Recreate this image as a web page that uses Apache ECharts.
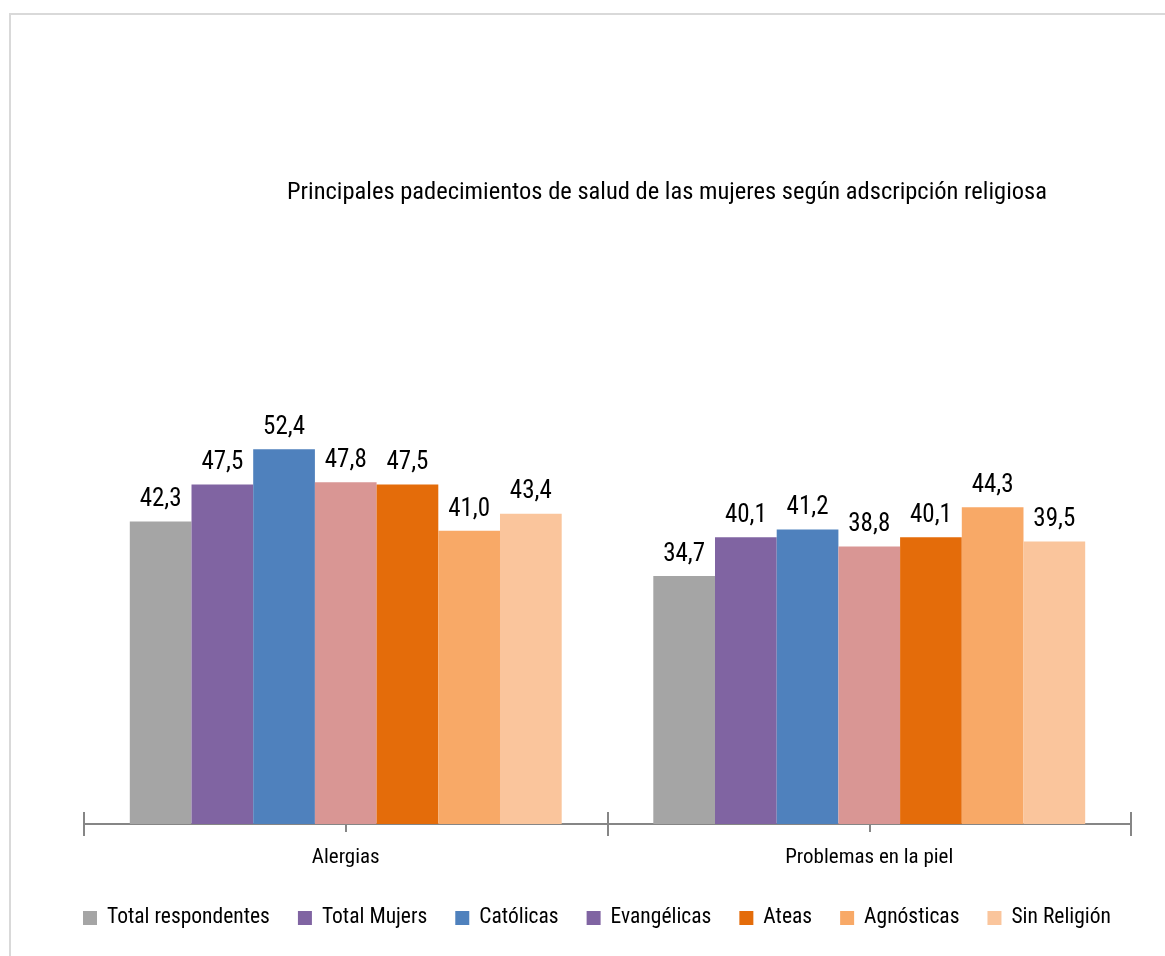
<!DOCTYPE html>
<html>
<head>
<meta charset="utf-8">
<script src="https://cdn.jsdelivr.net/npm/echarts@6/dist/echarts.min.js"></script>
<style>
html,body{margin:0;padding:0;background:#fff;}
#c{width:1165px;height:956px;}
</style>
</head>
<body>
<div id="c"></div>
<script>
const categories = ['Alergias', 'Problemas en la piel'];
const seriesNames = ['Total respondentes', 'Total Mujers', 'Católicas', 'Evangélicas', 'Ateas', 'Agnósticas', 'Sin Religión'];
const totalRespondentes = [42.3, 34.7];
const totalMujers = [47.5, 40.1];
const catolicas = [52.4, 41.2];
const evangelicas = [47.8, 38.8];
const ateas = [47.5, 40.1];
const agnosticas = [41.0, 44.3];
const sinReligion = [43.4, 39.5];
const seriesValues = [totalRespondentes, totalMujers, catolicas, evangelicas, ateas, agnosticas, sinReligion];

const barColors = ['#a5a5a5', '#8064a2', '#4f81bd', '#d99694', '#e46c0a', '#f8a967', '#fac59c'];
const legendColors = ['#a5a5a5', '#8064a2', '#4f81bd', '#8064a2', '#e46c0a', '#f8a967', '#fac59c'];

const FONT = "'Roboto Condensed', 'Open Sans Condensed', 'DejaVu Sans Condensed', sans-serif";

const chart = echarts.init(document.getElementById('c'), null, {renderer: 'canvas'});

const baseAxis = {
  type: 'category',
  data: categories,
  gridIndex: 0,
  position: 'bottom',
  boundaryGap: true
};

const option = {
  backgroundColor: '#ffffff',
  animation: false,
  graphic: [{
    type: 'rect',
    shape: {x: 10, y: 14, width: 1200, height: 1000},
    style: {fill: 'none', stroke: '#d9d9d9', lineWidth: 2},
    silent: true, z: -1
  }],
  title: {
    text: 'Principales padecimientos de salud de las mujeres según adscripción religiosa',
    left: 662, top: 175, textAlign: 'center',
    textStyle: {fontFamily: FONT, fontSize: 24.5, fontWeight: 'normal', color: '#000'}
  },
  grid: {left: 84, right: 34, top: 395, bottom: 132, containLabel: false},
  legend: {
    left: 78, top: 902,
    itemWidth: 14, itemHeight: 14, itemGap: 28,
    icon: 'rect',
    textStyle: {fontFamily: FONT, fontSize: 21.5, color: '#000', padding: [0, 0, 0, 5]},
    data: seriesNames.map((n, i) => ({name: n, itemStyle: {color: legendColors[i]}}))
  },
  xAxis: [
    Object.assign({}, baseAxis, {
      axisLine: {show: true, lineStyle: {color: '#868686', width: 2}},
      axisTick: {show: true, length: 12, lineStyle: {color: '#868686', width: 2}},
      axisLabel: {fontFamily: FONT, fontSize: 21, color: '#000', margin: 23}
    }),
    Object.assign({}, baseAxis, {
      axisLine: {show: false},
      axisTick: {show: true, inside: true, length: 12, lineStyle: {color: '#868686', width: 2}},
      axisLabel: {show: false}
    }),
    Object.assign({}, baseAxis, {
      axisLine: {show: false},
      axisTick: {show: true, alignWithLabel: true, length: 8, lineStyle: {color: '#868686', width: 2}},
      axisLabel: {show: false}
    })
  ],
  yAxis: {
    type: 'value', min: 0, max: 60, show: false,
    splitLine: {show: false}
  },
  series: seriesNames.map((n, i) => ({
    name: n,
    type: 'bar',
    xAxisIndex: 0,
    data: seriesValues[i],
    barGap: '0%',
    barCategoryGap: '17.5%',
    itemStyle: {color: barColors[i]},
    label: {
      show: true, position: 'top', distance: 9,
      formatter: p => p.value.toFixed(1).replace('.', ','),
      fontFamily: FONT, fontSize: 25, color: '#000'
    }
  }))
};
chart.setOption(option);
</script>
</body>
</html>
